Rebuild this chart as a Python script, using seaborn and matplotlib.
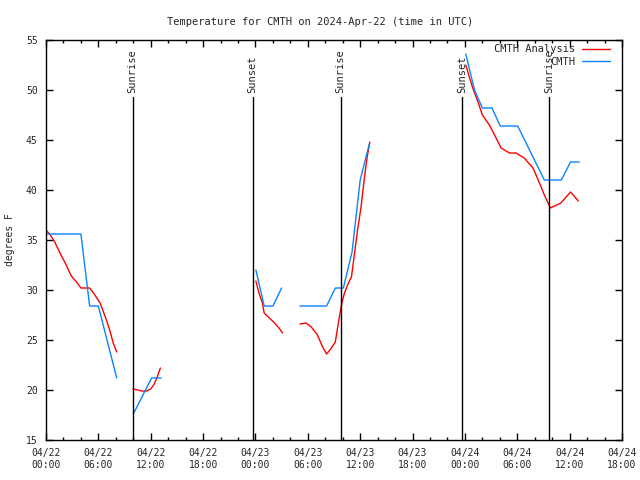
import pandas as pd
import matplotlib
matplotlib.use("Agg")
import matplotlib.pyplot as plt
import matplotlib.dates as mdates
import seaborn as sns

# start of the plotted window (UTC)
START = pd.Timestamp("2024-04-22 00:00")

# CMTH Analysis (red), hours since START, degrees F -- one list per unbroken piece
ana_hours = [
    [0, 0.5, 1.0, 1.6, 2.2, 2.9, 3.5, 4.0, 5.0, 5.6, 6.2, 6.8, 7.3, 7.7, 8.1],
    [9.95, 10.5, 10.9, 11.5, 12.0, 12.4, 12.7, 13.1],
    [24.05, 24.4, 24.8, 25.0, 25.6, 26.2, 26.7, 27.1],
    [29.1, 29.8, 30.4, 31.1, 31.7, 32.15, 32.7, 33.15, 33.5, 33.9, 34.2, 34.65,
     35.0, 35.3, 35.7, 36.1, 36.45, 36.8, 37.1],
    [48.1, 48.5, 48.9, 49.5, 50.0, 50.8, 51.4, 52.15, 53.1, 53.85, 54.8, 55.8,
     56.5, 57.1, 57.8, 59.0, 60.1, 61.0],
]
ana_temps = [
    [36.0, 35.5, 34.8, 33.7, 32.7, 31.4, 30.8, 30.2, 30.2, 29.5, 28.7, 27.3, 26.0, 24.7, 23.8],
    [20.1, 20.0, 19.9, 19.9, 20.1, 20.6, 21.2, 22.2],
    [30.9, 29.7, 28.7, 27.7, 27.2, 26.7, 26.2, 25.7],
    [26.6, 26.7, 26.3, 25.5, 24.3, 23.6, 24.2, 24.8, 26.7, 28.7, 29.7, 30.7,
     31.3, 33.3, 36.0, 38.3, 41.0, 43.3, 44.8],
    [52.5, 51.3, 50.2, 48.8, 47.5, 46.5, 45.5, 44.2, 43.7, 43.7, 43.2, 42.2,
     40.8, 39.5, 38.2, 38.7, 39.8, 38.9],
]

# CMTH observations (blue)
obs_hours = [
    [0, 4.0, 5.0, 6.0, 8.1],
    [10.0, 12.1, 13.2],
    [24.05, 25.0, 26.0, 27.0],
    [29.1, 32.15, 33.15, 34.07, 35.07, 36.0, 37.05],
    [48.1, 49.1, 50.0, 51.1, 52.05, 54.05, 57.1, 59.05, 60.1, 61.1],
]
obs_temps = [
    [35.6, 35.6, 28.4, 28.4, 21.2],
    [17.6, 21.2, 21.2],
    [32.0, 28.4, 28.4, 30.2],
    [28.4, 28.4, 30.2, 30.2, 33.8, 41.0, 44.6],
    [53.6, 50.0, 48.2, 48.2, 46.4, 46.4, 41.0, 41.0, 42.8, 42.8],
]

sun_times = ["2024-04-22 09:55", "2024-04-22 23:40", "2024-04-23 09:45",
             "2024-04-23 23:40", "2024-04-24 09:40"]
sun_labels = ["Sunrise", "Sunset", "Sunrise", "Sunset", "Sunrise"]

# long table for seaborn
rows = []
for name, hours, temps in [("CMTH Analysis", ana_hours, ana_temps),
                           ("CMTH", obs_hours, obs_temps)]:
    for i, (hs, ts) in enumerate(zip(hours, temps)):
        for h, t in zip(hs, ts):
            rows.append({"time": START + pd.Timedelta(hours=h), "temp": t,
                         "series": name, "segment": f"{name}-{i}"})
df = pd.DataFrame(rows)

sns.set_style("ticks")
plt.rcParams["font.family"] = ["DejaVu Sans Mono"]

fig = plt.figure(figsize=(6.4, 4.8), dpi=100)
ax = fig.add_axes([46 / 640, 40 / 480, 576 / 640, 400 / 480])

sns.lineplot(data=df, x="time", y="temp", hue="series", units="segment",
             estimator=None, hue_order=["CMTH Analysis", "CMTH"],
             palette={"CMTH Analysis": "#ff0000", "CMTH": "#0a84ff"},
             linewidth=1, ax=ax)

# sunrise / sunset markers
for t, lab in zip(sun_times, sun_labels):
    ts = pd.Timestamp(t)
    ax.axvline(ts, ymin=0, ymax=0.857, color="black", lw=1)
    ax.text(ts, 0.868, lab, transform=ax.get_xaxis_transform(), rotation=90,
            ha="center", va="bottom", fontsize=7.5)

ax.set_xlim(START, START + pd.Timedelta(hours=66))
ax.set_ylim(15, 55)
ax.set_yticks(range(15, 56, 5))
ax.xaxis.set_major_locator(mdates.HourLocator(byhour=range(0, 24, 6)))
ax.xaxis.set_minor_locator(mdates.HourLocator(byhour=range(0, 24, 2)))
ax.xaxis.set_major_formatter(mdates.DateFormatter("%m/%d\n%H:%M"))
ax.tick_params(which="both", direction="in", top=True, right=True,
               labelsize=7, color="black", width=1)
ax.tick_params(which="major", length=5, pad=6)
ax.tick_params(which="minor", length=2.5)
for sp in ax.spines.values():
    sp.set_color("black")
    sp.set_linewidth(1)

ax.set_xlabel("")
ax.set_ylabel("degrees F", fontsize=7, labelpad=8)
fig.suptitle("Temperature for CMTH on 2024-Apr-22 (time in UTC)", fontsize=7.5,
             y=0.965)

handles, labels = ax.get_legend_handles_labels()
ax.legend(handles, labels, loc="upper right", bbox_to_anchor=(1 - 8 / 576, 1.0),
          frameon=False, markerfirst=False, fontsize=7.5, handlelength=2.7,
          handletextpad=0.6, labelspacing=0.25, borderaxespad=0.0)

fig.savefig("out.png", dpi=100)
